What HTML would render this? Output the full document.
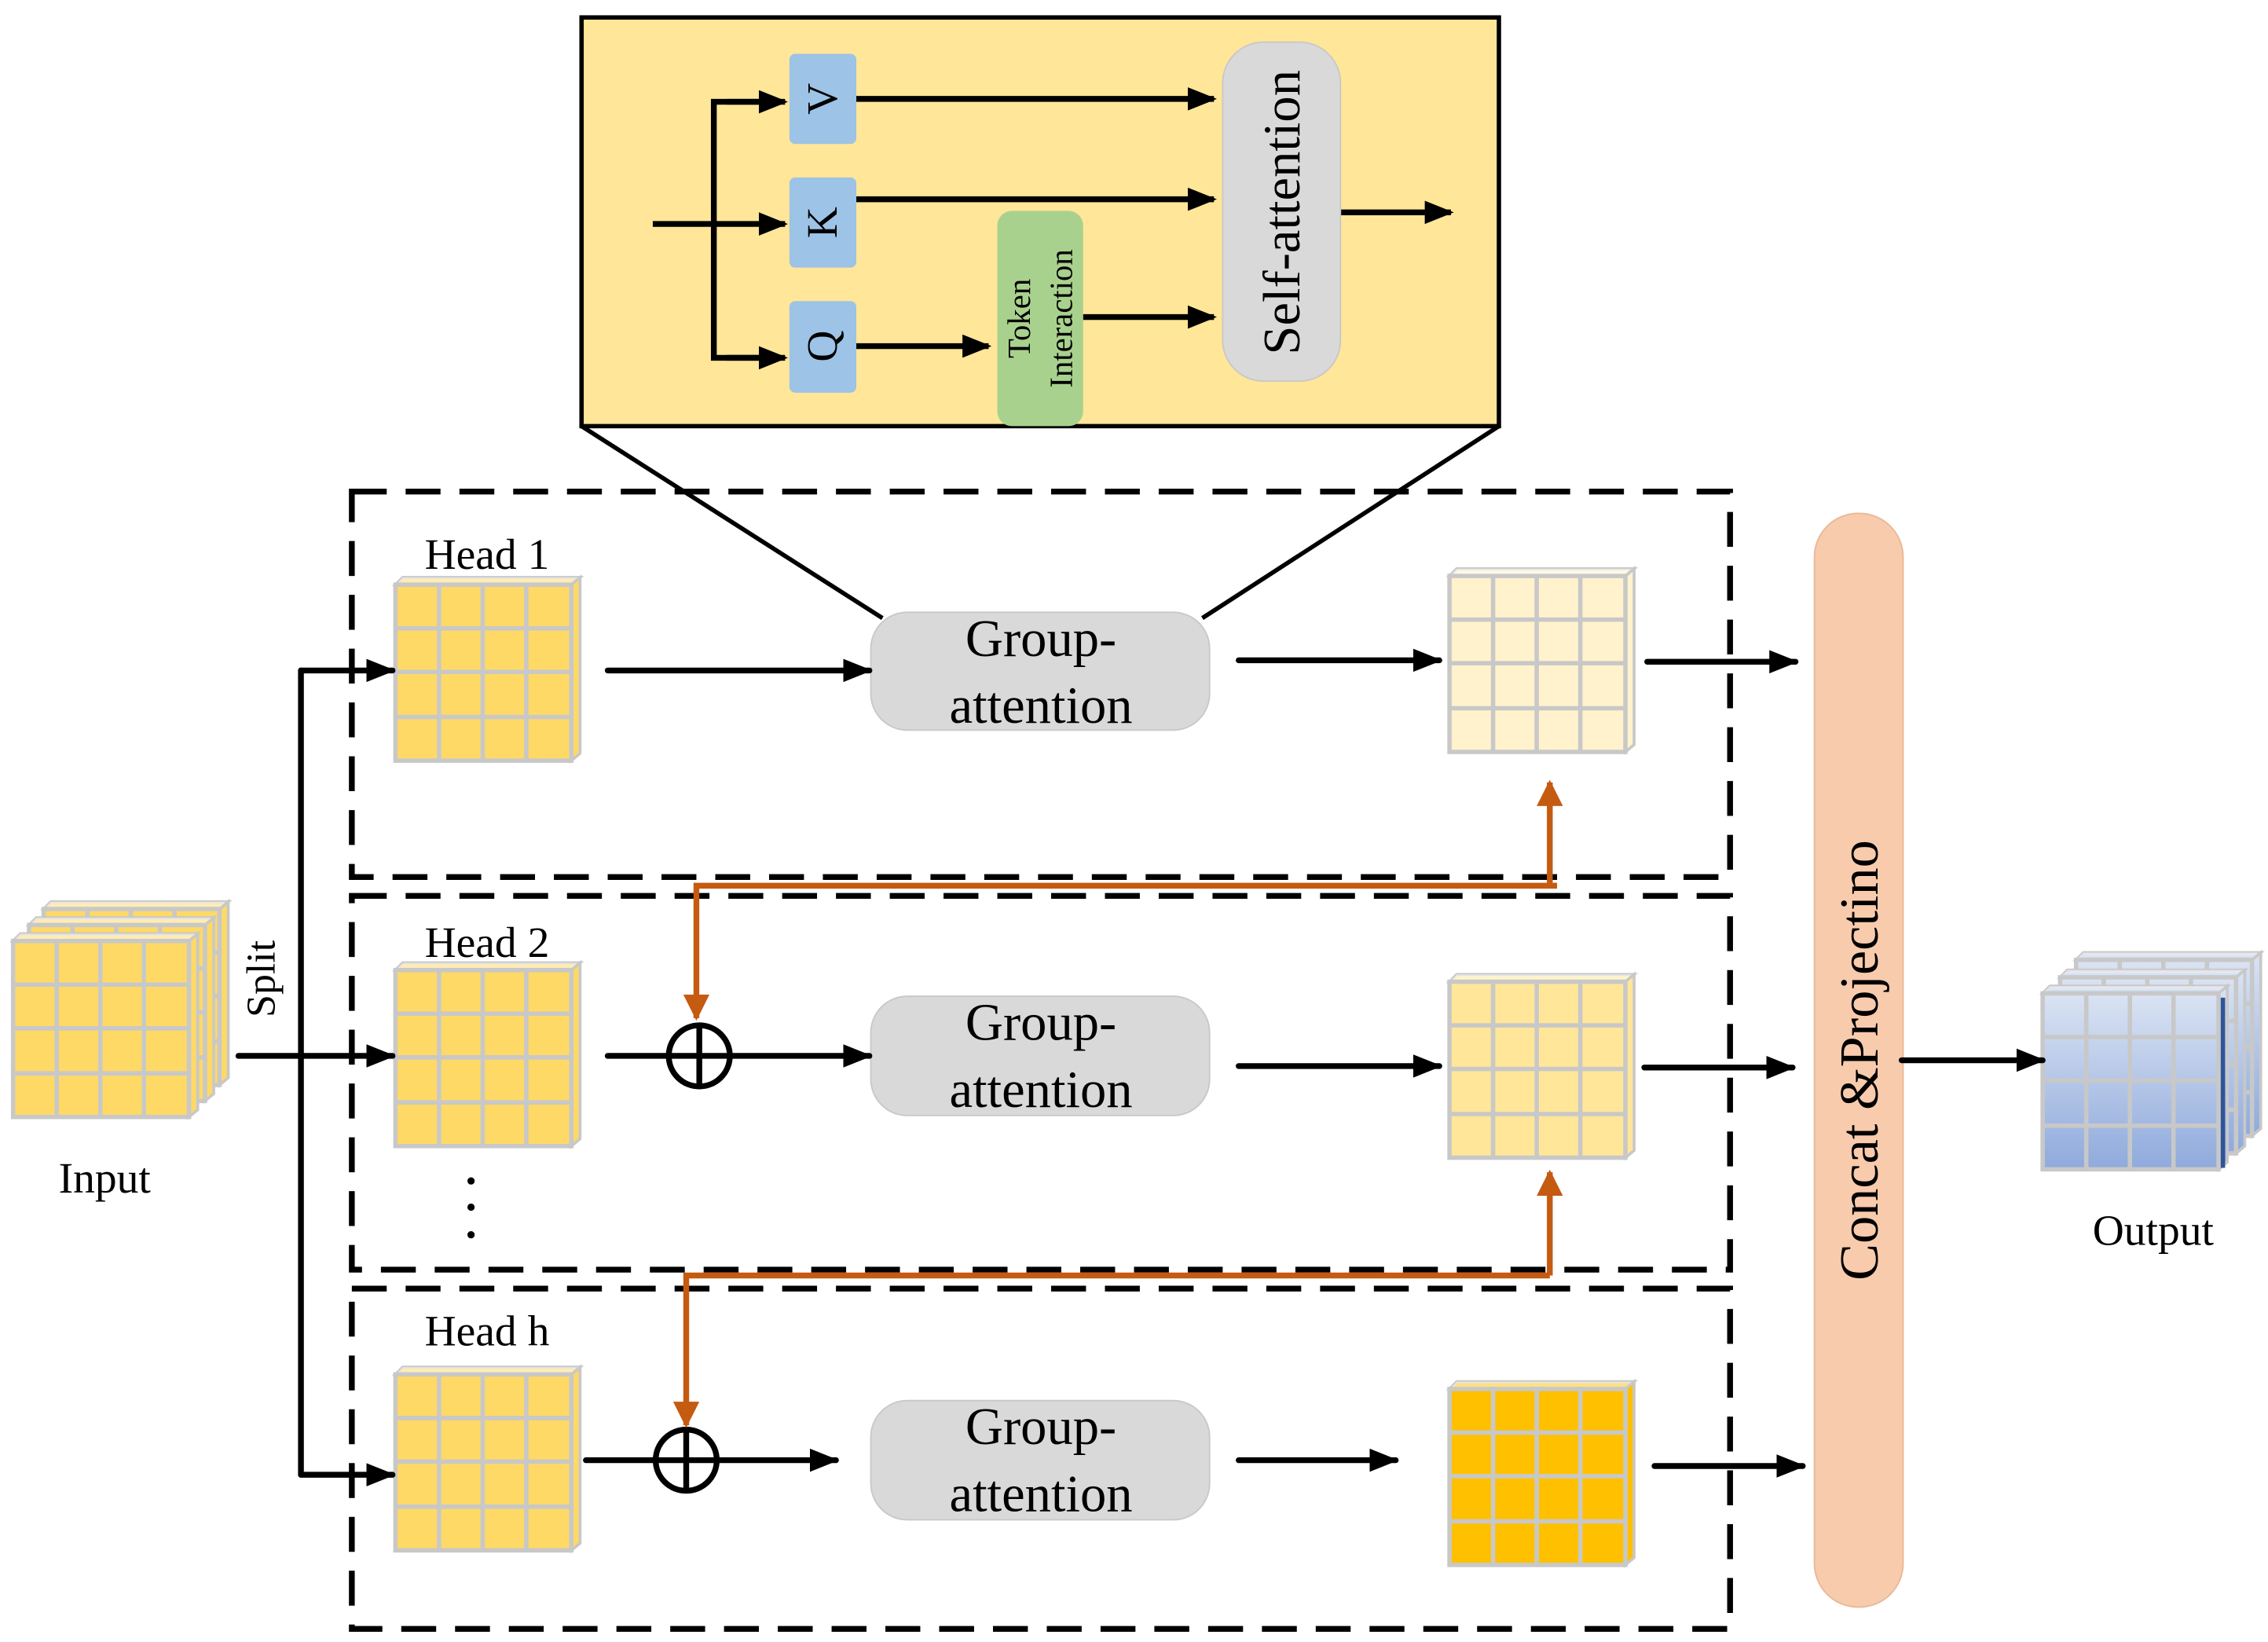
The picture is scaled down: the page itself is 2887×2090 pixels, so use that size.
<!DOCTYPE html>
<html><head><meta charset="utf-8"><style>
html,body{margin:0;padding:0;background:#fff;}
svg{display:block;}
text{font-family:"Liberation Serif",serif;fill:#000;}
</style></head><body>
<svg width="2887" height="2090" viewBox="0 0 1560 1129" preserveAspectRatio="none" xmlns="http://www.w3.org/2000/svg">
<defs>
<marker id="ah" viewBox="0 0 10 10" refX="9" refY="5" markerWidth="5" markerHeight="5" orient="auto" markerUnits="strokeWidth"><path d="M0,1 L10,5 L0,9 z" fill="#000"/></marker>
<marker id="ao" viewBox="0 0 10 10" refX="9" refY="5" markerWidth="4.5" markerHeight="6" orient="auto" markerUnits="strokeWidth"><path d="M0,0 L10,5 L0,10 z" fill="#C55A11"/></marker>
<g id="grid">
<polygon points="0,5 5,0 127,0 121,5" stroke="#c8c8c8" stroke-width="2"/>
<polygon points="0,5 5,0 127,0 121,5" fill="#fff" opacity="0.5"/>
<polygon points="121,5 127,0 127,121 121,126" stroke="#c8c8c8" stroke-width="2"/>
<rect x="0" y="5" width="121" height="121" stroke="#c8c8c8" stroke-width="3"/>
<path d="M30,5V126M60,5V126M90,5V126M0,35H121M0,65H121M0,96H121" stroke="#c8c8c8" stroke-width="3" fill="none"/>
</g>
<linearGradient id="bl" x1="0" y1="0" x2="0" y2="1"><stop offset="0" stop-color="#DAE3F3"/><stop offset="1" stop-color="#8FAADC"/></linearGradient>
</defs>

<rect x="400" y="12" width="631" height="281" fill="#FFE699" stroke="#000" stroke-width="3"/>
<line x1="400" y1="293" x2="607" y2="425" stroke="#000" stroke-width="3"/>
<line x1="1031" y1="293" x2="827" y2="425" stroke="#000" stroke-width="3"/>
<rect x="543" y="37" width="46" height="62" rx="4" fill="#9DC3E6"/>
<rect x="543" y="122" width="46" height="62" rx="4" fill="#9DC3E6"/>
<rect x="543" y="207" width="46" height="63" rx="4" fill="#9DC3E6"/>
<text transform="translate(566,68) rotate(-90)" font-size="30" text-anchor="middle" dominant-baseline="central">V</text>
<text transform="translate(566,153) rotate(-90)" font-size="30" text-anchor="middle" dominant-baseline="central">K</text>
<text transform="translate(566,238) rotate(-90)" font-size="30" text-anchor="middle" dominant-baseline="central">Q</text>
<g stroke="#000" stroke-width="4" fill="none">
<line x1="449" y1="154" x2="540" y2="154" marker-end="url(#ah)"/>
<polyline points="537,70 491,70 491,246 537,246"/>
<line x1="500" y1="70" x2="540" y2="70" marker-end="url(#ah)"/>
<line x1="500" y1="246" x2="540" y2="246" marker-end="url(#ah)"/>
<line x1="589" y1="68" x2="835" y2="68" marker-end="url(#ah)"/>
<line x1="589" y1="137" x2="835" y2="137" marker-end="url(#ah)"/>
<line x1="589" y1="238" x2="680" y2="238" marker-end="url(#ah)"/>
<line x1="745" y1="218" x2="835" y2="218" marker-end="url(#ah)"/>
<line x1="922" y1="146" x2="998" y2="146" marker-end="url(#ah)"/>
</g>
<rect x="686" y="145" width="59" height="148" rx="10" fill="#A9D18E"/>
<text transform="translate(701,219) rotate(-90)" font-size="22" text-anchor="middle" dominant-baseline="central">Token</text>
<text transform="translate(730,219) rotate(-90)" font-size="22" text-anchor="middle" dominant-baseline="central">Interaction</text>
<rect x="841" y="29" width="81" height="233" rx="28" fill="#D9D9D9" stroke="#c8c8c8" stroke-width="1"/>
<text transform="translate(882,146) rotate(-90)" font-size="36" text-anchor="middle" dominant-baseline="central">Self-attention</text>

<g stroke="#000" stroke-width="4" fill="none" stroke-dasharray="24,13">
<rect x="242" y="338" width="948" height="265"/>
<rect x="242" y="616" width="948" height="257"/>
<rect x="242" y="886" width="948" height="234"/>
</g>

<rect x="1248" y="353" width="61" height="752" rx="30" fill="#F8CBAD" stroke="#e8b898" stroke-width="1"/>
<text transform="translate(1279,729) rotate(-90)" font-size="38" text-anchor="middle" dominant-baseline="central">Concat &amp;Projectino</text>

<use href="#grid" x="30" y="620" fill="#FFD966"/>
<use href="#grid" x="20" y="631" fill="#FFD966"/>
<use href="#grid" x="9" y="642" fill="#FFD966"/>
<text x="72" y="820" font-size="30" text-anchor="middle">Input</text>
<text transform="translate(180,673) rotate(-90)" font-size="28" text-anchor="middle" dominant-baseline="central">Split</text>

<use href="#grid" x="1428" y="655" fill="url(#bl)"/>
<use href="#grid" x="1417" y="667" fill="url(#bl)"/>
<use href="#grid" x="1405" y="678" fill="url(#bl)"/>
<line x1="1529" y1="686" x2="1529" y2="803" stroke="#2F5597" stroke-width="3"/>
<text x="1481" y="856" font-size="30" text-anchor="middle">Output</text>

<use href="#grid" x="272" y="397" fill="#FFD966"/>
<use href="#grid" x="272" y="662" fill="#FFD966"/>
<use href="#grid" x="272" y="940" fill="#FFD966"/>
<text x="335" y="391" font-size="30" text-anchor="middle">Head 1</text>
<text x="335" y="658" font-size="30" text-anchor="middle">Head 2</text>
<text x="335" y="925" font-size="30" text-anchor="middle">Head h</text>
<circle cx="324" cy="812" r="2.5" fill="#000"/><circle cx="324" cy="830" r="2.5" fill="#000"/><circle cx="324" cy="849" r="2.5" fill="#000"/>

<use href="#grid" x="997" y="391" fill="#FFF2CC"/>
<use href="#grid" x="997" y="670" fill="#FFE699"/>
<use href="#grid" x="997" y="950" fill="#FFC000"/>

<g fill="#D9D9D9" stroke="#c8c8c8" stroke-width="1">
<rect x="599" y="421" width="233" height="81" rx="25"/>
<rect x="599" y="685" width="233" height="82" rx="25"/>
<rect x="599" y="963" width="233" height="82" rx="25"/>
</g>
<g font-size="36" text-anchor="middle">
<text x="716" y="451">Group-</text><text x="716" y="497">attention</text>
<text x="716" y="715">Group-</text><text x="716" y="761">attention</text>
<text x="716" y="993">Group-</text><text x="716" y="1039">attention</text>
</g>

<g stroke="#000" stroke-width="4" fill="none" stroke-linecap="round">
<polyline points="207,461 207,1014"/>
<line x1="207" y1="461" x2="270" y2="461" marker-end="url(#ah)"/>
<line x1="164" y1="726" x2="270" y2="726" marker-end="url(#ah)"/>
<line x1="207" y1="1014" x2="270" y2="1014" marker-end="url(#ah)"/>
<line x1="418" y1="461" x2="598" y2="461" marker-end="url(#ah)"/>
<line x1="852" y1="454" x2="990" y2="454" marker-end="url(#ah)"/>
<line x1="1133" y1="455" x2="1235" y2="455" marker-end="url(#ah)"/>
<line x1="418" y1="726" x2="598" y2="726" marker-end="url(#ah)"/>
<line x1="852" y1="733" x2="990" y2="733" marker-end="url(#ah)"/>
<line x1="1131" y1="734" x2="1233" y2="734" marker-end="url(#ah)"/>
<line x1="403" y1="1004" x2="575" y2="1004" marker-end="url(#ah)"/>
<line x1="852" y1="1004" x2="960" y2="1004" marker-end="url(#ah)"/>
<line x1="1138" y1="1008" x2="1240" y2="1008" marker-end="url(#ah)"/>
<line x1="1308" y1="729" x2="1405" y2="729" marker-end="url(#ah)"/>
<circle cx="481" cy="726" r="21"/>
<line x1="481" y1="705" x2="481" y2="747"/>
<circle cx="472" cy="1004" r="21"/>
<line x1="472" y1="983" x2="472" y2="1025"/>
</g>

<g stroke="#C55A11" stroke-width="4" fill="none">
<polyline points="1071,609 479,609 479,700" marker-end="url(#ao)"/>
<line x1="1066" y1="609" x2="1066" y2="538" marker-end="url(#ao)"/>
<polyline points="1066,877 472,877 472,980" marker-end="url(#ao)"/>
<line x1="1066" y1="877" x2="1066" y2="806" marker-end="url(#ao)"/>
</g>
</svg>
</body></html>
